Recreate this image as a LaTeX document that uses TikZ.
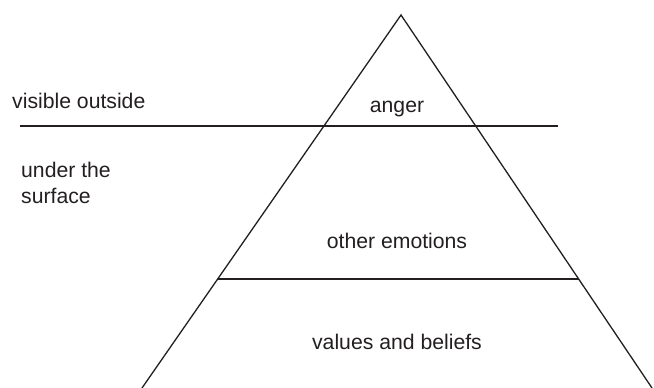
\documentclass[tikz,border=0pt]{standalone}
\usepackage{fontspec}
\setmainfont{Liberation Sans}
\usepackage{xcolor}
\usetikzlibrary{calc}
\definecolor{ink}{HTML}{231F20}

\begin{document}
\begin{tikzpicture}[x=1pt,y=-1pt,
  edge/.style={ink,line width=1.3pt},
  lbl/.style={text=ink,inner sep=0pt,font=\fontsize{21.2}{26}\selectfont}]
  \useasboundingbox (0,0) rectangle (654,388);

  % pyramid
  \coordinate (apex) at (401,15);
  \coordinate (baseL) at (142,388);
  \coordinate (baseR) at (652,388);
  \draw[edge] (baseL) -- (apex) -- (baseR);

  % water line
  \coordinate (waterL) at (20,126);
  \coordinate (waterR) at (558,126);
  \draw[edge] (waterL) -- (waterR);

  % split between emotions and beliefs
  \coordinate (midL) at ($(apex)!0.708!(baseL)$);
  \coordinate (midR) at ($(apex)!0.708!(baseR)$);
  \draw[edge] (midL) -- (midR);

  \node[lbl,anchor=base west] (visible) at (12,108) {visible outside};
  \node[lbl,anchor=base west,align=left] (under) at (21,203) {under the\\surface};
  \node[lbl,anchor=base] (anger) at (397,112) {anger};
  \node[lbl,anchor=base] (other) at (397,248) {other emotions};
  \node[lbl,anchor=base] (values) at (397,349) {values and beliefs};
\end{tikzpicture}
\end{document}
